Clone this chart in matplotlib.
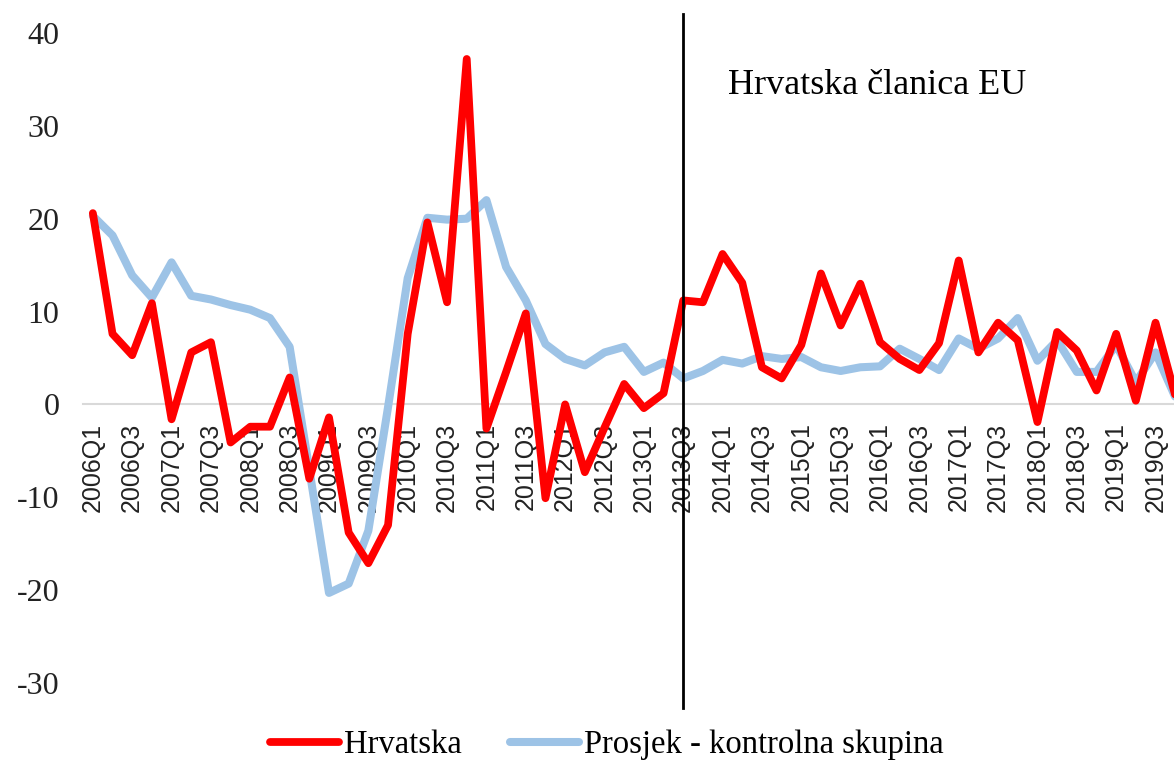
import matplotlib.pyplot as plt

plt.rcParams['axes.unicode_minus'] = False

quarters = [f'{y}Q{q}' for y in range(2006, 2020) for q in range(1, 5)]

hrvatska = [20.6, 7.6, 5.3, 10.9, -1.6, 5.6, 6.7, -4.1, -2.4, -2.4, 2.9, -8.0,
            -1.4, -13.8, -17.1, -13.0, 7.6, 19.6, 11.0, 37.2, -2.6, 3.5, 9.8, -10.1,
            0.0, -7.3, -2.5, 2.2, -0.4, 1.2, 11.2, 11.0, 16.2, 13.1, 4.0, 2.8,
            6.4, 14.1, 8.5, 13.0, 6.7, 4.9, 3.7, 6.6, 15.5, 5.6, 8.8, 6.9,
            -1.9, 7.8, 5.8, 1.5, 7.6, 0.4, 8.8, 1.0]

prosjek = [20.3, 18.2, 13.9, 11.5, 15.3, 11.7, 11.3, 10.7, 10.2, 9.3, 6.2, -7.0,
           -20.3, -19.3, -13.6, -0.3, 13.6, 20.1, 19.9, 20.0, 22.0, 14.8, 11.2, 6.5,
           4.9, 4.2, 5.6, 6.2, 3.5, 4.5, 2.8, 3.6, 4.8, 4.4, 5.2, 4.9,
           5.1, 4.0, 3.6, 4.0, 4.1, 6.0, 4.9, 3.7, 7.1, 6.0, 7.1, 9.3,
           4.7, 6.9, 3.5, 3.5, 6.4, 2.4, 5.6, 0.8]

eu_entry = quarters.index('2013Q3')
tick_labels = quarters[::2]
serif = ['Liberation Serif', 'DejaVu Serif']

fig = plt.figure(figsize=(11.74, 7.62), dpi=100)
ax = fig.add_axes([0.0707, 0.1037, 0.9387, 0.853])

x = list(range(len(quarters)))
ax.plot(x, hrvatska, color='#ff0000', lw=5.6, label='Hrvatska', solid_capstyle='round', zorder=3)
ax.plot(x, prosjek, color='#9dc3e6', lw=5.8, label='Prosjek - kontrolna skupina',
        solid_capstyle='round', zorder=2)

# EU accession marker
ax.plot([eu_entry, eu_entry], [42, -32.7], color='black', lw=2, clip_on=False, zorder=4)
ax.text(eu_entry + 2.3, 34.3, 'Hrvatska članica EU', family=serif, fontsize=26,
        va='center', ha='left')

ax.set_xlim(-0.5, len(quarters) - 0.5)
ax.set_ylim(-30, 40)
ax.set_yticks(range(-30, 41, 10))

for s in ['top', 'right', 'left']:
    ax.spines[s].set_visible(False)
ax.spines['bottom'].set_position(('data', 0))
ax.spines['bottom'].set_color('#d9d9d9')
ax.spines['bottom'].set_linewidth(1.5)
ax.spines['bottom'].set_zorder(1)

ax.set_xticks(x[::2])
ax.set_xticklabels(tick_labels, rotation=90, va='top', ha='center',
                   family='Liberation Sans', fontsize=18, color='#222222')
ax.tick_params(axis='x', length=0, pad=13)
ax.tick_params(axis='y', length=0, pad=17)
for lab in ax.get_yticklabels():
    lab.set_family(serif)
    lab.set_fontsize(23)
    lab.set_color('#222222')

fig.legend(loc='center', bbox_to_anchor=(0.517, 0.022), ncol=2, frameon=False,
           prop={'family': serif, 'size': 23.5}, handlelength=2.1, handletextpad=0.15,
           columnspacing=1.5)

fig.savefig('out.png', dpi=100)
